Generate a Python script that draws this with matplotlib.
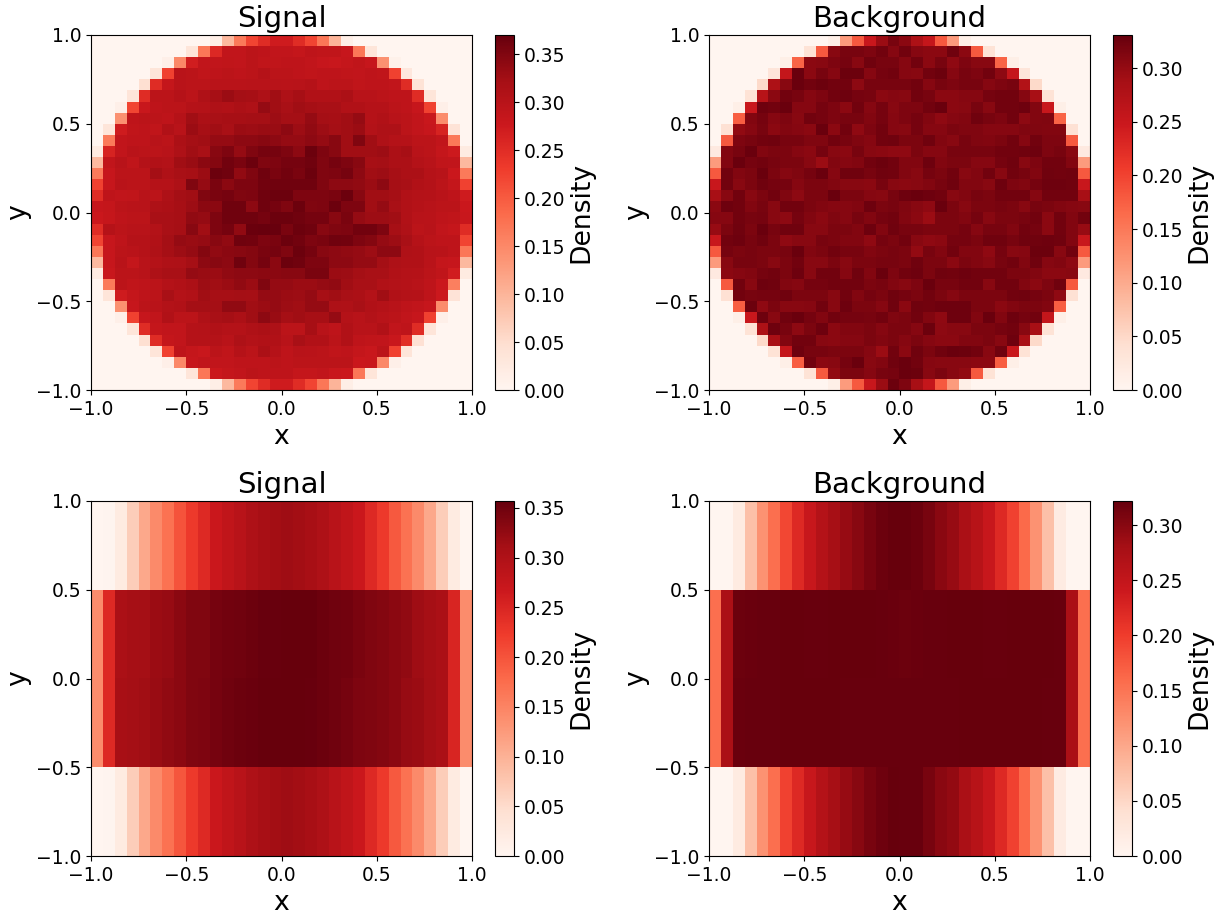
import numpy as np
import matplotlib
matplotlib.use("Agg")
import matplotlib.pyplot as plt

FIG_W, FIG_H = 1229, 919

titles = ["Signal", "Background", "Signal", "Background"]
colorbar_tops = [0.3698, 0.3308, 0.357, 0.3218]

# density x 1000, rows from y=1 down to y=-1, columns from x=-1 to x=1
signal_disk = [
    [0,0,0,0,0,0,0,0,0,0,15,95,165,222,250,272,272,250,222,170,100,15,0,0,0,0,0,0,0,0,0,0],
    [0,0,0,0,0,0,0,0,35,170,255,288,288,296,292,288,288,286,292,290,290,283,170,35,0,0,0,0,0,0,0,0],
    [0,0,0,0,0,0,12,150,270,288,288,290,288,296,290,290,292,292,288,283,280,286,290,283,140,10,0,0,0,0,0,0],
    [0,0,0,0,0,35,225,298,296,290,292,296,292,296,302,296,296,292,290,292,292,290,288,292,290,225,30,0,0,0,0,0],
    [0,0,0,0,45,250,286,298,295,296,298,298,298,300,300,300,298,300,302,292,295,295,290,292,292,288,250,40,0,0,0,0],
    [0,0,0,35,250,295,295,302,296,310,320,330,323,320,312,326,312,320,308,308,308,314,300,300,296,292,292,250,35,0,0,0],
    [0,0,12,220,280,292,296,295,302,304,310,308,314,310,335,326,317,326,322,317,317,308,308,302,302,296,292,282,225,12,0,0],
    [0,0,140,292,295,295,292,302,326,314,317,320,320,323,323,328,323,323,335,323,320,326,335,302,308,300,296,288,280,145,0,0],
    [0,35,272,290,292,290,308,300,330,320,326,317,330,328,332,332,340,328,338,328,323,326,330,305,312,312,295,288,282,262,38,0],
    [0,165,288,292,292,300,296,314,323,326,335,335,340,340,345,340,335,335,340,335,345,326,350,326,310,304,302,296,295,288,168,0],
    [22,262,288,298,296,295,300,312,326,317,345,352,335,350,358,358,352,340,365,352,345,326,326,326,328,314,320,300,296,286,275,22],
    [95,288,300,290,304,308,305,326,332,342,348,360,355,365,350,352,358,358,362,350,358,352,345,320,323,314,314,304,300,290,288,95],
    [165,282,295,296,295,323,310,317,320,330,365,362,338,350,362,355,360,355,365,350,352,358,340,326,328,320,314,314,302,300,278,165],
    [225,282,298,296,296,302,302,312,350,335,355,342,352,352,360,362,362,362,362,350,340,340,338,330,340,322,317,308,304,295,286,225],
    [250,292,288,290,300,296,312,323,326,350,355,358,350,352,362,365,365,352,352,352,355,365,345,326,326,322,308,304,302,298,292,272],
    [282,286,295,298,300,312,314,320,328,342,342,362,362,340,362,358,350,365,350,352,365,352,352,326,335,317,308,302,300,296,296,278],
    [278,284,292,295,296,317,317,320,338,335,352,362,362,362,358,365,365,362,358,358,345,355,335,328,328,326,308,300,298,292,290,280],
    [250,302,295,300,300,305,317,322,345,326,352,358,338,366,367,367,355,365,362,345,350,352,360,360,352,320,310,295,300,288,284,250],
    [222,282,292,302,302,308,323,335,332,335,345,338,362,360,352,355,365,360,352,355,362,360,352,348,335,328,317,302,296,292,292,222],
    [170,282,295,298,302,310,322,328,335,348,338,342,345,348,355,358,350,365,358,345,340,338,335,328,340,340,310,308,300,298,292,170],
    [95,282,298,286,300,304,310,312,322,340,345,340,362,348,358,342,365,362,352,352,340,340,335,335,323,312,308,308,298,286,282,95],
    [22,280,295,295,300,312,317,317,335,332,330,338,340,340,342,342,345,345,355,355,330,328,323,317,317,308,304,302,296,290,270,22],
    [0,165,296,290,292,295,304,308,314,328,326,330,338,330,350,335,335,330,330,335,338,326,317,317,308,305,302,300,292,278,160,0],
    [0,35,272,286,292,296,317,304,308,326,320,320,323,322,335,335,330,328,335,320,326,317,314,305,326,308,304,302,292,276,38,0],
    [0,0,140,282,296,298,305,308,323,323,323,338,338,326,330,335,328,326,335,335,312,310,317,308,304,300,292,288,282,145,0,0],
    [0,0,12,225,282,288,308,296,295,310,317,322,314,326,340,332,322,326,320,320,335,304,300,305,300,295,288,282,225,12,0,0],
    [0,0,0,35,250,286,288,288,302,304,308,304,304,310,314,312,296,296,320,300,292,308,300,300,308,288,292,250,35,0,0,0],
    [0,0,0,0,45,250,286,288,302,302,304,298,312,305,308,308,300,317,308,308,296,308,292,290,288,280,248,42,0,0,0,0],
    [0,0,0,0,0,35,225,292,286,280,296,290,302,296,314,302,292,300,298,296,290,292,286,280,295,225,35,0,0,0,0,0],
    [0,0,0,0,0,0,12,150,282,288,288,288,292,292,292,296,292,295,295,295,295,295,278,280,150,12,0,0,0,0,0,0],
    [0,0,0,0,0,0,0,0,35,170,278,286,288,295,292,292,292,286,286,288,280,278,170,35,0,0,0,0,0,0,0,0],
    [0,0,0,0,0,0,0,0,0,0,15,95,165,222,250,272,272,250,222,170,100,15,0,0,0,0,0,0,0,0,0,0],
]

background_disk = [
    [0,0,0,0,0,0,0,0,0,0,12,115,180,250,295,318,305,280,255,180,115,12,0,0,0,0,0,0,0,0,0,0],
    [0,0,0,0,0,0,0,0,35,180,308,318,318,315,322,310,322,310,306,306,324,305,180,35,0,0,0,0,0,0,0,0],
    [0,0,0,0,0,0,12,170,306,308,315,320,308,324,318,318,310,323,306,318,303,315,308,308,170,12,0,0,0,0,0,0],
    [0,0,0,0,0,30,255,328,306,318,310,326,326,310,320,322,310,308,323,326,310,318,315,323,304,255,30,0,0,0,0,0],
    [0,0,0,0,48,280,308,328,323,326,322,322,304,318,318,318,318,322,310,318,315,318,318,310,315,318,275,48,0,0,0,0],
    [0,0,0,35,270,306,322,318,310,315,322,325,320,318,306,310,308,322,318,306,306,310,310,320,322,322,310,285,35,0,0,0],
    [0,0,12,250,325,322,328,310,310,320,315,306,323,310,320,308,315,315,322,328,306,308,318,308,323,322,325,312,250,12,0,0],
    [0,0,175,312,320,310,315,308,323,320,315,318,318,312,320,310,315,320,312,303,310,312,324,318,315,323,304,312,314,170,0,0],
    [0,38,302,310,318,306,312,310,306,328,306,322,303,315,322,310,308,320,310,310,316,314,314,310,310,310,314,314,312,312,38,0],
    [0,180,315,318,322,324,318,318,314,314,322,318,314,310,322,324,316,316,324,312,308,318,314,312,316,322,310,322,315,315,180,0],
    [22,312,318,328,312,316,316,310,306,320,308,306,318,308,306,303,303,316,310,310,318,318,318,318,322,322,324,325,315,318,308,22],
    [115,312,328,320,323,318,316,316,308,295,312,310,312,323,326,322,312,312,325,312,316,316,310,310,320,324,308,315,322,322,312,115],
    [180,322,312,316,328,316,310,314,320,328,310,324,324,318,324,322,312,308,320,316,322,308,312,322,308,322,318,312,324,322,324,180],
    [250,322,308,316,324,320,320,310,316,316,312,308,308,306,318,308,306,308,312,318,324,312,312,308,325,315,312,320,325,325,324,250],
    [285,308,323,308,316,322,314,304,316,316,328,316,316,310,308,318,325,328,325,322,308,312,318,316,322,322,322,310,322,322,322,285],
    [306,325,323,312,318,308,323,323,316,312,310,310,312,325,316,318,314,308,303,328,316,308,316,316,318,316,308,318,316,312,310,308],
    [310,310,323,318,320,308,304,320,312,306,314,310,318,312,320,322,312,306,295,316,316,312,320,308,316,316,318,322,306,322,312,322],
    [298,316,324,316,328,318,324,324,308,308,316,316,312,325,312,324,318,318,316,316,316,320,310,318,318,312,322,320,306,322,312,298],
    [250,322,325,318,324,316,303,308,308,318,316,312,312,303,320,316,322,308,303,306,320,320,316,324,324,318,324,324,325,324,312,250],
    [180,320,316,318,316,316,318,328,312,316,322,318,318,312,316,318,316,300,318,312,322,312,312,303,320,308,310,326,326,308,322,180],
    [115,308,318,318,316,308,316,322,308,308,316,308,316,316,318,318,316,324,316,316,306,316,312,308,318,322,312,324,310,312,304,115],
    [22,306,310,312,320,322,316,325,308,322,322,310,324,312,328,315,322,325,316,324,322,325,322,322,322,316,316,312,306,306,308,22],
    [0,180,323,308,325,324,312,310,320,320,322,322,322,316,318,312,308,315,328,318,318,322,322,308,322,322,312,306,315,324,180,0],
    [0,38,323,318,320,320,324,316,316,316,308,322,312,320,316,324,320,316,322,316,310,316,316,316,316,322,324,320,316,303,38,0],
    [0,0,175,326,303,316,308,308,310,323,308,325,316,316,310,324,306,324,322,325,325,325,316,316,306,312,316,316,312,175,0,0],
    [0,0,12,250,325,308,324,328,320,312,322,320,320,318,322,314,316,322,312,303,325,325,312,328,312,325,320,322,255,12,0,0],
    [0,0,0,35,280,325,318,304,316,325,306,312,312,316,310,316,316,310,326,304,308,308,316,316,320,322,308,285,35,0,0,0],
    [0,0,0,0,48,285,312,322,322,308,306,310,310,316,312,316,310,316,310,306,306,312,312,316,308,325,285,48,0,0,0,0],
    [0,0,0,0,0,35,255,325,318,318,316,316,316,310,295,323,306,324,316,324,328,326,322,308,324,250,35,0,0,0,0,0],
    [0,0,0,0,0,0,12,175,323,306,308,320,328,308,312,324,328,322,310,308,308,308,306,306,175,12,0,0,0,0,0,0],
    [0,0,0,0,0,0,0,0,35,180,302,316,316,310,318,320,328,326,308,316,308,302,180,35,0,0,0,0,0,0,0,0],
    [0,0,0,0,0,0,0,0,0,0,12,115,180,250,295,326,315,285,255,180,115,12,0,0,0,0,0,0,0,0,0,0],
]

signal_slab = [
    [0,2,22,68,110,143,170,200,225,245,268,280,290,300,308,313,316,313,308,300,290,280,268,245,225,195,170,143,110,68,22,1],
    [140,245,305,310,312,318,322,330,338,338,345,348,350,352,355,355,357,357,357,352,350,348,342,338,336,330,325,316,310,305,250,140],
    [140,245,308,312,315,320,325,330,338,340,345,350,352,354,356,357,357,356,355,352,350,345,340,338,335,330,322,318,312,305,250,140],
    [0,2,22,68,110,143,170,198,225,245,268,280,290,300,308,313,316,313,308,300,290,280,268,245,225,195,170,143,110,68,22,1],
]

background_slab = [
    [0,1,20,75,120,155,190,220,245,265,278,290,300,310,318,322,322,318,310,298,290,275,262,245,220,195,160,120,75,18,1,0],
    [155,275,318,319,320,320,321,321,320,320,321,321,321,321,320,319,318,319,320,320,321,321,321,320,320,321,321,321,321,320,275,155],
    [155,275,319,320,320,320,321,321,321,321,321,320,320,320,320,320,320,320,320,320,320,321,321,321,321,321,321,321,320,320,275,155],
    [0,1,20,75,120,155,195,220,245,265,278,290,300,310,316,322,320,320,310,298,292,275,262,245,220,195,160,120,75,18,1,0],
]

panels = [signal_disk, background_disk, signal_slab, background_slab]


def axes_box(left, top, right, bottom):
    # pixel box of the reference to figure fractions
    return [left / FIG_W, 1 - bottom / FIG_H, (right - left) / FIG_W, (bottom - top) / FIG_H]


fig = plt.figure(figsize=(FIG_W / 100, FIG_H / 100), dpi=100)

lefts = [91, 709]
tops = [35, 501]
for i, values in enumerate(panels):
    left = lefts[i % 2]
    top = tops[i // 2]
    ax = fig.add_axes(axes_box(left, top, left + 381, top + 355))
    cax = fig.add_axes(axes_box(left + 404, top, left + 423, top + 355))

    im = ax.imshow(np.array(values) / 1000, cmap="Reds", vmin=0, vmax=colorbar_tops[i],
                   extent=(-1, 1, -1, 1), aspect="auto", interpolation="nearest")
    ax.set_title(titles[i], fontsize=21, pad=5.5)
    ax.set_xlabel("x", fontsize=19.2, labelpad=3.5)
    ax.set_ylabel("y", fontsize=19.2, labelpad=3.5)
    ax.set_xticks([-1.0, -0.5, 0.0, 0.5, 1.0])
    ax.set_yticks([-1.0, -0.5, 0.0, 0.5, 1.0])
    ax.tick_params(labelsize=13.5)

    cbar = fig.colorbar(im, cax=cax)
    cbar.set_label("Density", fontsize=19.2, labelpad=2.5)
    cbar.ax.tick_params(labelsize=13.5)

fig.savefig("out.png")
plt.close(fig)
